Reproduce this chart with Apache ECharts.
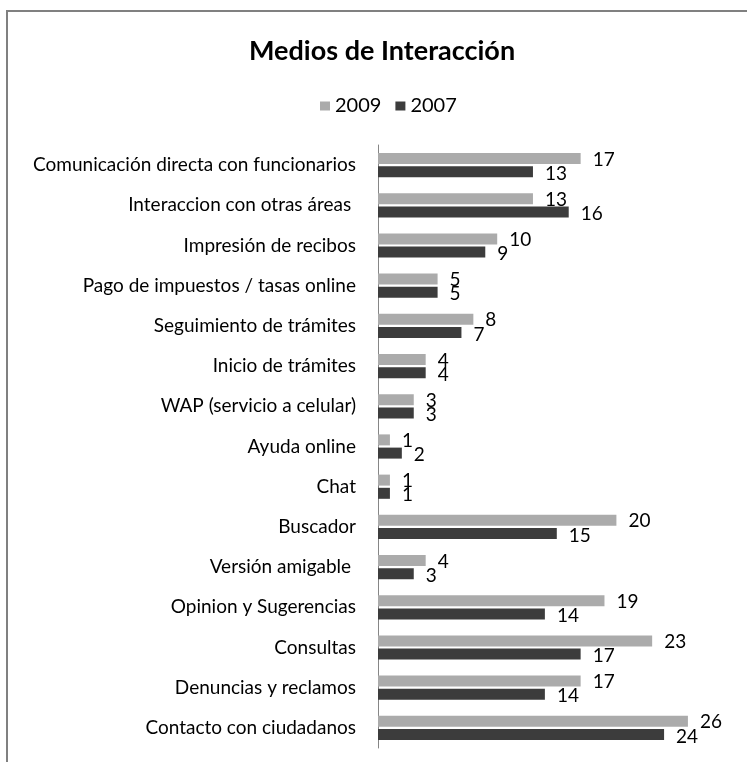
<!DOCTYPE html>
<html>
<head>
<meta charset="utf-8">
<style>html,body{margin:0;padding:0;background:#fff;}#c{width:747px;height:762px;}</style>
<script src="https://cdn.jsdelivr.net/npm/echarts@6/dist/echarts.min.js"></script>
</head>
<body>
<div id="c"></div>
<script>
const categories = [
  'Comunicación directa con funcionarios',
  'Interaccion con otras áreas ',
  'Impresión de recibos',
  'Pago de impuestos / tasas online',
  'Seguimiento de trámites',
  'Inicio de trámites',
  'WAP (servicio a celular)',
  'Ayuda online',
  'Chat',
  'Buscador',
  'Versión amigable ',
  'Opinion y Sugerencias',
  'Consultas',
  'Denuncias y reclamos',
  'Contacto con ciudadanos'
];
const values2009 = [17, 13, 10, 5, 8, 4, 3, 1, 1, 20, 4, 19, 23, 17, 26];
const values2007 = [13, 16, 9, 5, 7, 4, 3, 2, 1, 15, 3, 14, 17, 14, 24];

const FONT = 'Lato';
const chart = echarts.init(document.getElementById('c'));
chart.setOption({
  animation: false,
  backgroundColor: '#fff',
  graphic: [{
    type: 'rect', shape: {x: 7, y: 11, width: 800, height: 800},
    style: {fill: 'none', stroke: '#808080', lineWidth: 2}, silent: true, z: -1
  }],
  title: {
    text: 'Medios de Interacción', left: 244, top: 33,
    textStyle: {fontFamily: FONT, fontSize: 27, fontWeight: 'bold', color: '#000'}
  },
  legend: {
    top: 91, left: 315, itemWidth: 10, itemHeight: 9, itemGap: 14,
    icon: 'rect',
    textStyle: {fontFamily: FONT, fontSize: 20, color: '#000'},
    data: ['2009', '2007']
  },
  grid: {left: 378, right: 11.4, top: 145, bottom: 14, containLabel: false},
  xAxis: {
    type: 'value', min: 0, max: 30, show: false
  },
  yAxis: {
    type: 'category', data: categories, inverse: true,
    axisLine: {lineStyle: {color: '#868686', width: 1}},
    axisTick: {show: false},
    axisLabel: {fontFamily: FONT, fontSize: 19, color: '#000', margin: 22}
  },
  series: [
    {
      name: '2009', type: 'bar', data: values2009, barWidth: 11, barGap: '20%',
      itemStyle: {color: '#ababab'},
      label: {show: true, position: 'right', distance: 12, offset: [0, 1],
        fontFamily: FONT, fontSize: 19, color: '#000'}
    },
    {
      name: '2007', type: 'bar', data: values2007, barWidth: 11, barGap: '20%',
      itemStyle: {color: '#3c3c3c'},
      label: {show: true, position: 'right', distance: 12, offset: [0, 2],
        fontFamily: FONT, fontSize: 19, color: '#000'}
    }
  ]
});
</script>
</body>
</html>
